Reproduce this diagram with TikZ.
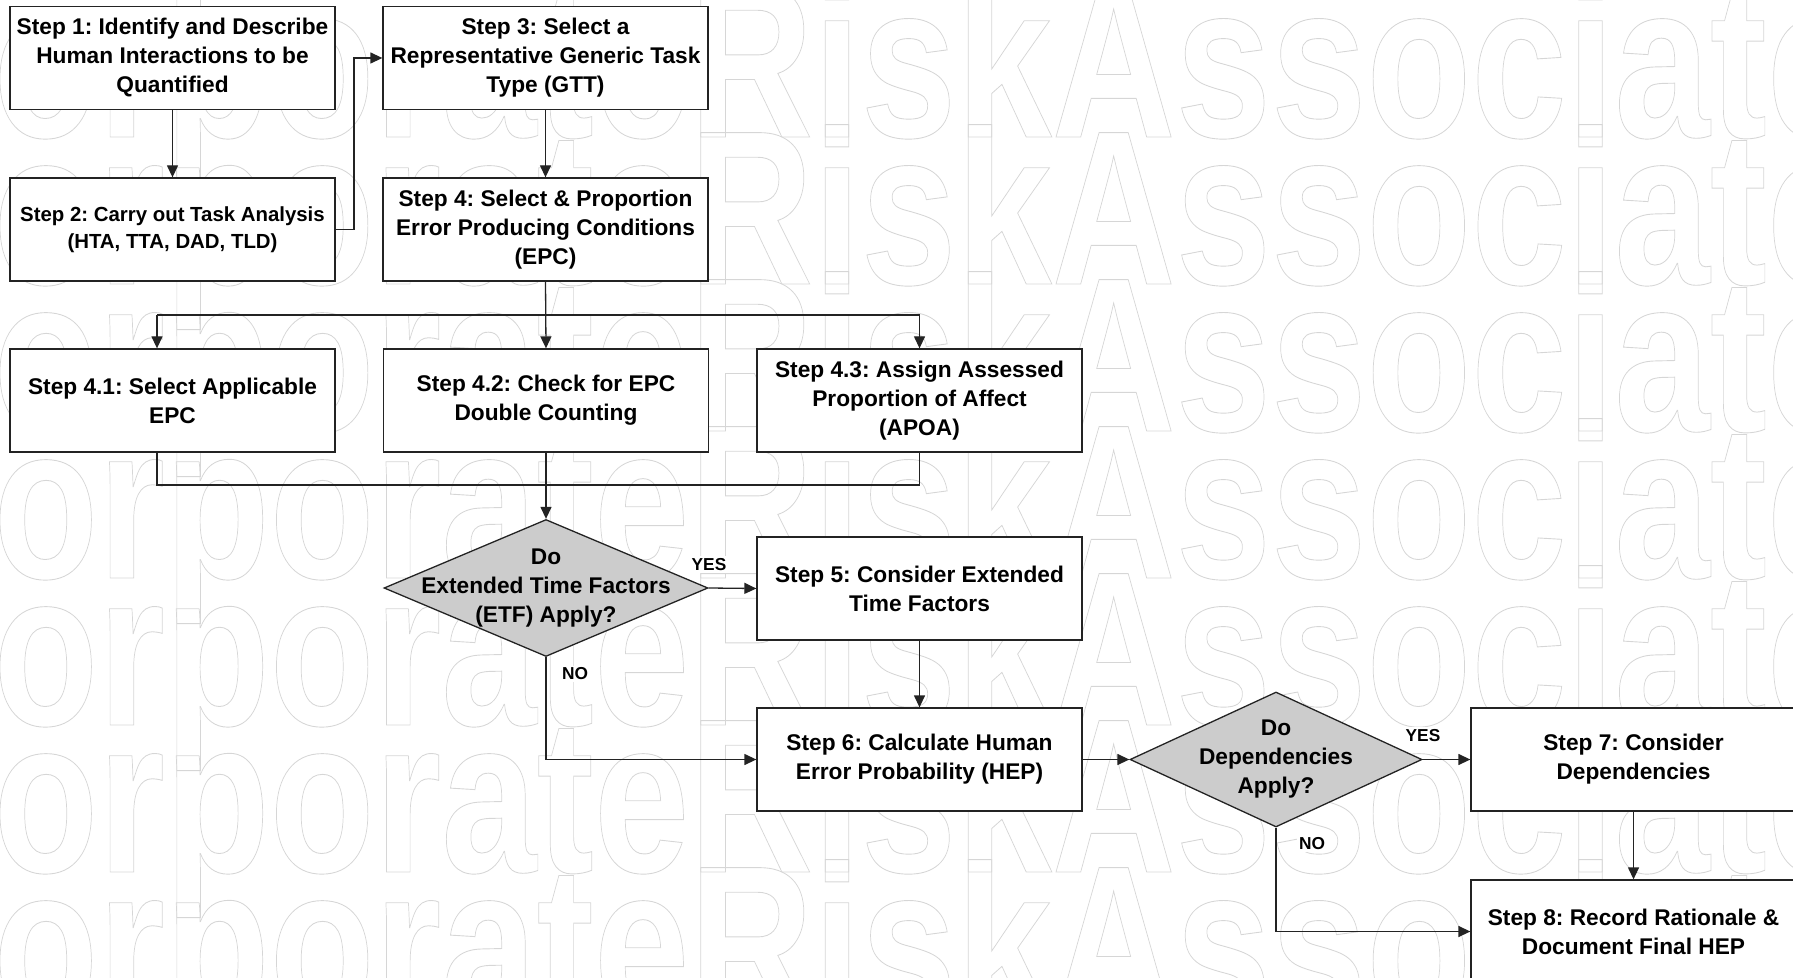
\documentclass[tikz,border=0pt]{standalone}
\usepackage{fontspec}
\setmainfont{Liberation Sans}
\usepackage{graphicx}
\usetikzlibrary{shapes.geometric,arrows.meta}
\definecolor{wm}{RGB}{214,214,214}
\definecolor{ln}{RGB}{35,35,35}
\definecolor{dfill}{RGB}{204,204,204}
\newcommand{\wmtext}{\special{pdf:literal direct 1 Tr 0.45 w}CorporateRiskAssociates\special{pdf:literal direct 0 Tr}}
\frenchspacing
\begin{document}
\begin{tikzpicture}[x=0.5pt,y=-0.5pt,
  stepbox/.style={draw=ln, line width=0.65pt, fill=white, minimum width=162.5pt,
    minimum height=51.5pt, inner sep=0pt, align=center,
    font=\fontsize{11.35}{14.5}\selectfont\bfseries},
  smalltext/.style={font=\fontsize{10.2}{13.6}\selectfont\bfseries},
  dia/.style={diamond, draw=ln, fill=dfill, line width=0.65pt, inner sep=0pt},
  dtext/.style={align=center, inner sep=0pt, font=\fontsize{11.35}{14.5}\selectfont\bfseries},
  lab/.style={fill=white, inner sep=1pt, font=\fontsize{8.65}{10}\selectfont\bfseries},
  conn/.style={draw=ln, line width=0.65pt},
  arr/.style={conn, -{Triangle[length=6pt,width=5.5pt]}},
  wmnode/.style={anchor=base west, inner sep=0pt, text=wm,
    font=\fontsize{110}{110}\selectfont\bfseries}]
\useasboundingbox (0,0) rectangle (1793,978);
\clip (0,0) rectangle (1793,978);
% watermark
\foreach \yy [count=\i] in {-10,137,284,431,578,725,872,1019}
  \node[wmnode] (wm\i) at (-131,\yy) {\scalebox{0.78}[1]{\wmtext}};
% boxes
\node[stepbox] (s1) at (172.5,58) {Step 1: Identify and Describe\\Human Interactions to be\\Quantified};
\node[stepbox, smalltext] (s2) at (172.5,229.5) {Step 2: Carry out Task Analysis\\(HTA, TTA, DAD, TLD)};
\node[stepbox] (s3) at (545.5,58) {Step 3: Select a\\Representative Generic Task\\Type (GTT)};
\node[stepbox] (s4) at (545.5,229.5) {Step 4: Select \& Proportion\\Error Producing Conditions\\(EPC)};
\node[stepbox] (s41) at (172.5,400.5) {Step 4.1: Select Applicable\\EPC};
\node[stepbox] (s42) at (546,400.5) {Step 4.2: Check for EPC\\Double Counting};
\node[stepbox] (s43) at (919.5,400.5) {Step 4.3: Assign Assessed\\Proportion of Affect\\(APOA)};
\node[dia, minimum width=162pt, minimum height=68.5pt] (d1) at (546,588) {};
\node[dtext] (d1t) at (d1) {Do\\Extended Time Factors\\(ETF) Apply?};
\node[stepbox] (s5) at (919.5,588.5) {Step 5: Consider Extended\\Time Factors};
\node[stepbox] (s6) at (919.5,759.5) {Step 6: Calculate Human\\Error Probability (HEP)};
\node[dia, minimum width=146pt, minimum height=67.5pt] (d2) at (1276,759.5) {};
\node[dtext] (d2t) at (d2) {Do\\Dependencies\\Apply?};
\node[stepbox] (s7) at (1633.5,759.5) {Step 7: Consider\\Dependencies};
\node[stepbox] (s8) at (1633.5,931.5) {Step 8: Record Rationale \&\\Document Final HEP};
% junction points
\coordinate (b1) at (157,315);
\coordinate (b3) at (919.5,315);
\coordinate (m1) at (157,485);
\coordinate (m3) at (919.5,485);
\coordinate (j1) at (354,229.5);
% connectors
\draw[arr] (s1.south) -- (s2.north);
\draw[arr] (s2.east) -- (j1) |- (s3.west);
\draw[arr] (s3.south) -- (s4.north);
\draw[arr] (s4.south) -- (s42.north);
\draw[conn] (b1) -- (b3);
\draw[arr] (b1) -- (b1 |- s41.north);
\draw[arr] (b3) -- (s43.north);
\draw[conn] (m1 |- s41.south) -- (m1) -- (m3) -- (s43.south);
\draw[arr] (s42.south) -- (d1.north);
\draw[arr] (d1.east) -- (s5.west);
\draw[arr] (d1.south) |- (s6.west);
\draw[arr] (s5.south) -- (s6.north);
\draw[arr] (s6.east) -- (d2.west);
\draw[arr] (d2.east) -- (s7.west);
\draw[arr] (s7.south) -- (s8.north);
\draw[arr] (d2.south) |- (s8.west);
% labels
\node[lab] (y1) at (709,564.5) {YES};
\node[lab] (n1) at (575,674) {NO};
\node[lab] (y2) at (1423,735.5) {YES};
\node[lab] (n2) at (1312,843.5) {NO};
\end{tikzpicture}
\end{document}
